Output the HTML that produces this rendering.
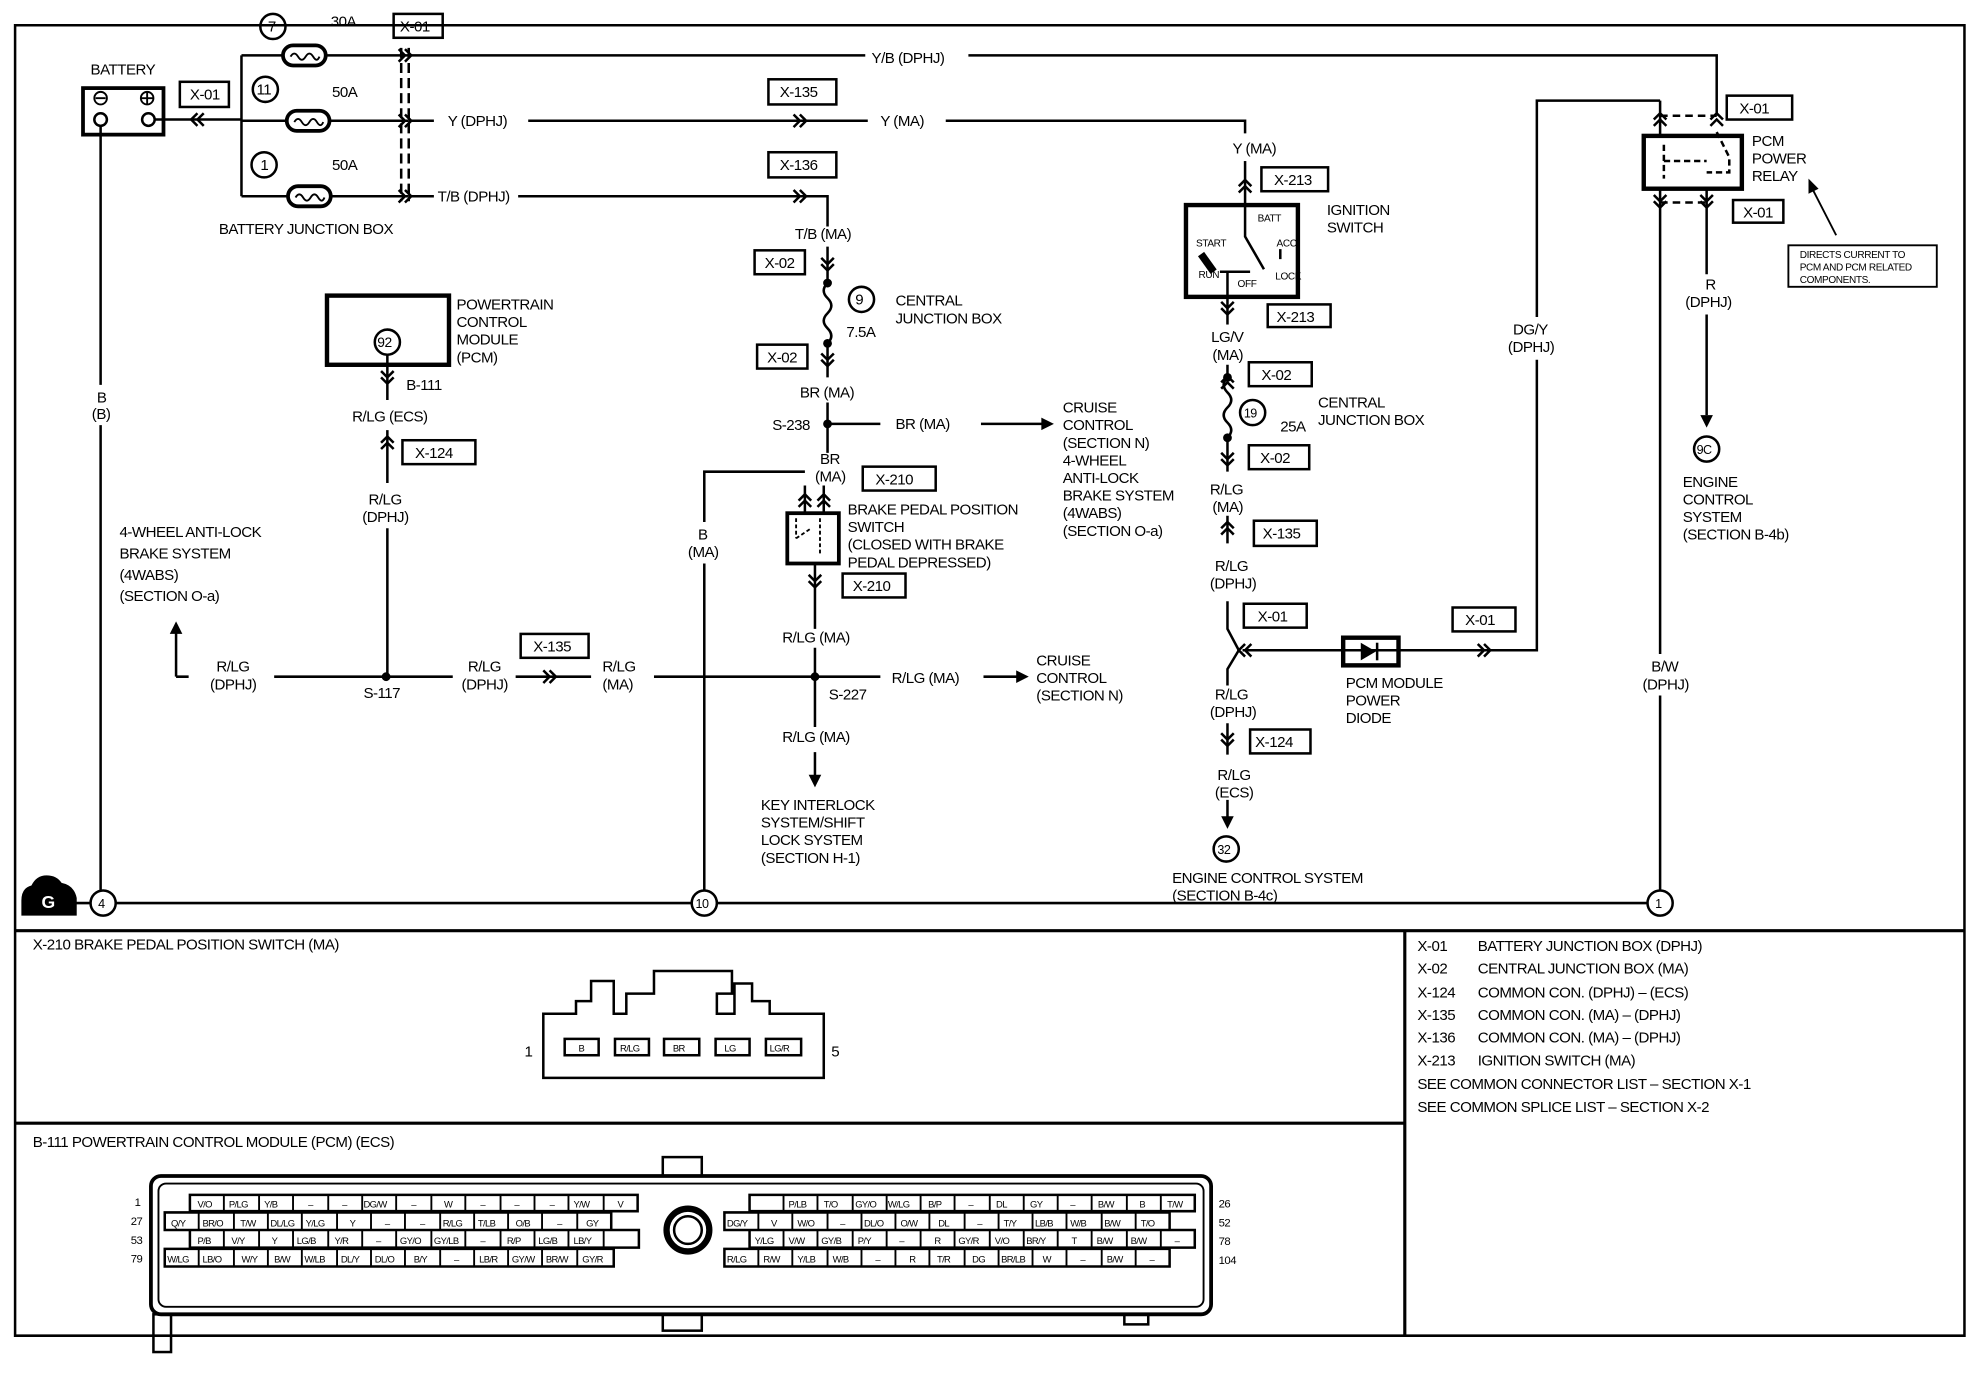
<!DOCTYPE html>
<html><head><meta charset="utf-8"><style>
html,body{margin:0;padding:0;background:#fff}
svg{display:block}
text{font-family:"Liberation Sans",sans-serif;font-size:12px;fill:#000;letter-spacing:-0.4px}
.s{font-size:9px}
.t{font-size:8px;letter-spacing:-0.3px}
.p{font-size:7.5px;letter-spacing:-0.5px}
</style></head><body>
<svg width="1972" height="1376" viewBox="0 0 1568 1094" xmlns="http://www.w3.org/2000/svg">
<defs>
<path id="cr" d="M-5,-5 L0,0 L-5,5 M0,-5 L5,0 L0,5" fill="none" stroke="#000" stroke-width="2"/>
<g id="fuse"><rect x="-17" y="-8" width="34" height="16" rx="8" fill="#fff" stroke="#000" stroke-width="3"/><path d="M-11,1 q3,-5 6,0 q3,5 6,0 q3,-5 6,0 q3,5 5,0" fill="none" stroke="#000" stroke-width="1.5"/></g>
</defs>
<g fill="none" stroke="#000" stroke-width="2">
<path d="M12,20 H1562 V1062 H12 Z"/>
<path d="M12,740 H1562 M1117,740 V1062 M12,893 H1117" stroke-width="2.5"/>
<path d="M40,718 H1320"/>
<rect x="66" y="70" width="64" height="37" stroke-width="3"/>
<circle cx="80" cy="95" r="5"/><circle cx="118" cy="95" r="5"/>
<circle cx="80" cy="78" r="5" stroke-width="1.5"/><path d="M76,78 H84" stroke-width="1.5"/>
<circle cx="117" cy="78" r="5" stroke-width="1.5"/><path d="M112,78 H122 M117,73 V83" stroke-width="1.5"/>
<path d="M80,100 V306 M80,338 V708"/>
<path d="M123,95 H192 M192,44 V156 M192,44 H325 M192,96 H325 M192,156 H325"/>
<path d="M319,38 V160 M325,38 V160" stroke-dasharray="8,4"/>
<circle cx="217" cy="21" r="10"/><circle cx="211" cy="71" r="10"/><circle cx="210" cy="131" r="10"/>
<rect x="143" y="65" width="39" height="20"/>
<rect x="313" y="11" width="39" height="19"/>
<path d="M325,44 H688 M770,44 H1365 V92"/>
<path d="M325,96 H345 M420,96 H690 M752,96 H990 V106"/>
<path d="M990,128 V163"/>
<rect x="611" y="63" width="54" height="20"/>
<path d="M325,156 H345 M412,156 H658 V180"/>
<rect x="611" y="121" width="54" height="20"/>
<path d="M658,196 V225 q-6,6 0,12 q6,6 0,12 q-6,6 0,12 q6,6 0,12 V300"/>
<circle cx="658" cy="225" r="2.5" fill="#000"/><circle cx="658" cy="273" r="2.5" fill="#000"/>
<rect x="600" y="199" width="40" height="19"/>
<rect x="602" y="274" width="40" height="19"/>
<circle cx="685" cy="238" r="10"/>
<path d="M658,320 V360 M658,337 H700 M780,337 H830"/>
<circle cx="658" cy="337" r="2.5" fill="#000"/>
<rect x="686" y="371" width="58" height="19"/>
<path d="M640,386 V408 M655,386 V408"/>
<path d="M560,708 V448 M560,415 V375 H640"/>
<rect x="626" y="408" width="41" height="40" stroke-width="3"/>
<path d="M633,412 V428 M633,428 L645,420 M652,412 V440" stroke-width="1.5" stroke-dasharray="3,2"/>
<path d="M648,448 V500 M648,515 V578 M648,598 V617"/>
<rect x="670" y="456" width="50" height="19"/>
<circle cx="648" cy="538" r="2.5" fill="#000"/>
<path d="M140,538 V500 M140,538 H150 M218,538 H360 M410,538 H470 M520,538 H700 M782,538 H810"/>
<rect x="414" y="504" width="54" height="19"/>
<circle cx="307" cy="538" r="2.5" fill="#000"/>
<rect x="260" y="235" width="97" height="55" stroke-width="3.5"/>
<circle cx="308" cy="272" r="10"/>
<path d="M308,282 V318 M308,342 V384 M308,420 V538"/>
<rect x="320" y="350" width="58" height="19"/>
<rect x="1003" y="133" width="53" height="19"/>
<rect x="943" y="163" width="89" height="73" stroke-width="3.5"/>
<path d="M990,163 V188 L1005,214" stroke-width="2"/>
<path d="M955,202 L965,216" stroke-width="6"/>
<path d="M970,216 H994 M1018,198 V206" stroke-width="2"/>
<path d="M976,216 V258"/>
<rect x="1008" y="242" width="50" height="18"/>
<path d="M976,290 V300 q-6,6 0,12 q6,6 0,12 q-6,6 0,12 q6,6 0,12 V375"/>
<circle cx="976" cy="300" r="2.5" fill="#000"/><circle cx="976" cy="348" r="2.5" fill="#000"/>
<rect x="993" y="288" width="50" height="19"/>
<circle cx="996" cy="328" r="10"/>
<rect x="993" y="354" width="48" height="19"/>
<path d="M976,410 V432 M976,478 V500 L985,517 L976,532 V545 M976,575 V600 M976,636 V650"/>
<rect x="997" y="414" width="50" height="20"/>
<rect x="989" y="480" width="50" height="19"/>
<path d="M988,517 H1222 V286 M1222,252 V80 H1320"/>
<rect x="1068" y="507" width="44" height="22" stroke-width="3.5"/>
<rect x="1155" y="483" width="50" height="19"/>
<rect x="994" y="580" width="48" height="19"/>
<circle cx="975" cy="675" r="10"/>
<rect x="1307" y="108" width="78" height="42" stroke-width="3.5"/>
<path d="M1320,80 V108 M1320,150 V520 M1320,553 V708 M1357,150 V218 M1357,250 V330"/>
<path d="M1320,92 H1365 M1320,161 H1357" stroke-dasharray="6,4"/>
<path d="M1323,115 V142 M1323,128 H1357 M1365,105 L1375,125 V137 H1357" stroke-dasharray="5,3"/>
<rect x="1373" y="76" width="52" height="19"/>
<rect x="1378" y="159" width="40" height="18"/>
<rect x="1422" y="195" width="118" height="33" stroke-width="1.5"/>
<path d="M1460,187 L1440,148" stroke-width="1.5"/>
<circle cx="1357" cy="357" r="10"/>
<circle cx="82" cy="718" r="10" fill="#fff"/><circle cx="560" cy="718" r="10" fill="#fff"/><circle cx="1320" cy="718" r="10" fill="#fff"/>
</g>
<use href="#fuse" x="242" y="44"/><use href="#fuse" x="245" y="96"/><use href="#fuse" x="246" y="156"/>
<use href="#cr" x="322" y="44"/><use href="#cr" x="322" y="96"/><use href="#cr" x="322" y="156"/>
<use href="#cr" transform="translate(157,95) rotate(180)"/>
<use href="#cr" x="636" y="96"/><use href="#cr" x="636" y="156"/>
<use href="#cr" transform="translate(658,210) rotate(90)"/>
<use href="#cr" transform="translate(658,286) rotate(90)"/>
<use href="#cr" transform="translate(640,398) rotate(-90)"/>
<use href="#cr" transform="translate(655,398) rotate(-90)"/>
<use href="#cr" transform="translate(648,462) rotate(90)"/>
<use href="#cr" x="437" y="538"/>
<use href="#cr" transform="translate(308,300) rotate(90)"/>
<use href="#cr" transform="translate(308,352) rotate(-90)"/>
<use href="#cr" transform="translate(990,148) rotate(-90)"/>
<use href="#cr" transform="translate(976,245) rotate(90)"/>
<use href="#cr" transform="translate(976,304) rotate(-90)"/>
<use href="#cr" transform="translate(976,365) rotate(90)"/>
<use href="#cr" transform="translate(976,420) rotate(-90)"/>
<use href="#cr" transform="translate(990,517) rotate(180)"/>
<use href="#cr" x="1180" y="517"/>
<use href="#cr" transform="translate(976,588) rotate(90)"/>
<use href="#cr" transform="translate(1320,95) rotate(-90)"/>
<use href="#cr" transform="translate(1365,95) rotate(-90)"/>
<use href="#cr" transform="translate(1320,160) rotate(90)"/>
<use href="#cr" transform="translate(1357,160) rotate(90)"/>
<g fill="#000">
<path d="M838,337 l-10,-5 v10 z"/><path d="M818,538 l-10,-5 v10 z"/>
<path d="M140,494 l-5,10 h10 z"/><path d="M648,626 l-5,-10 h10 z"/>
<path d="M976,659 l-5,-10 h10 z"/><path d="M1357,340 l-5,-10 h10 z"/>
<path d="M1438,142 l0,12 l8,-4 z"/>
<path d="M1082,511 v14 l12,-7 z"/><rect x="1094" y="511" width="2" height="14"/>
<path d="M17,728 V716 q0,-10 8,-12 q4,-8 12,-8 q8,0 12,6 q10,2 12,12 v14 z"/>
</g>
<g>
<text x="72" y="59">BATTERY</text>
<text x="151" y="79">X-01</text>
<text x="318" y="25">X-01</text>
<text x="213" y="25">7</text><text x="204" y="75">11</text><text x="207" y="135">1</text>
<text x="263" y="21">30A</text><text x="264" y="77">50A</text><text x="264" y="135">50A</text>
<text x="174" y="186">BATTERY JUNCTION BOX</text>
<text x="693" y="50">Y/B (DPHJ)</text>
<text x="356" y="100">Y (DPHJ)</text>
<text x="620" y="77">X-135</text>
<text x="700" y="100">Y (MA)</text>
<text x="980" y="122">Y (MA)</text>
<text x="348" y="160">T/B (DPHJ)</text>
<text x="620" y="135">X-136</text>
<text x="632" y="190">T/B (MA)</text>
<text x="608" y="213">X-02</text>
<text x="680" y="242">9</text>
<text x="673" y="268">7.5A</text>
<text x="712" y="243">CENTRAL</text><text x="712" y="257">JUNCTION BOX</text>
<text x="610" y="288">X-02</text>
<text x="636" y="316">BR (MA)</text>
<text x="614" y="342">S-238</text>
<text x="712" y="341">BR (MA)</text>
<text x="845" y="328">CRUISE</text><text x="845" y="342">CONTROL</text><text x="845" y="356">(SECTION N)</text><text x="845" y="370">4-WHEEL</text><text x="845" y="384">ANTI-LOCK</text><text x="845" y="398">BRAKE SYSTEM</text><text x="845" y="412">(4WABS)</text><text x="845" y="426">(SECTION O-a)</text>
<text x="652" y="369">BR</text><text x="648" y="383">(MA)</text>
<text x="696" y="385">X-210</text>
<text x="555" y="429">B</text><text x="547" y="443">(MA)</text>
<text x="674" y="409">BRAKE PEDAL POSITION</text><text x="674" y="423">SWITCH</text><text x="674" y="437">(CLOSED WITH BRAKE</text><text x="674" y="451">PEDAL DEPRESSED)</text>
<text x="678" y="470">X-210</text>
<text x="622" y="511">R/LG (MA)</text>
<text x="659" y="556">S-227</text>
<text x="709" y="543">R/LG (MA)</text>
<text x="824" y="529">CRUISE</text><text x="824" y="543">CONTROL</text><text x="824" y="557">(SECTION N)</text>
<text x="622" y="590">R/LG (MA)</text>
<text x="605" y="644">KEY INTERLOCK</text><text x="605" y="658">SYSTEM/SHIFT</text><text x="605" y="672">LOCK SYSTEM</text><text x="605" y="686">(SECTION H-1)</text>
<text x="172" y="534">R/LG</text><text x="167" y="548">(DPHJ)</text>
<text x="289" y="555">S-117</text>
<text x="372" y="534">R/LG</text><text x="367" y="548">(DPHJ)</text>
<text x="424" y="518">X-135</text>
<text x="479" y="534">R/LG</text><text x="479" y="548">(MA)</text>
<text x="95" y="427">4-WHEEL ANTI-LOCK</text><text x="95" y="444">BRAKE SYSTEM</text><text x="95" y="461">(4WABS)</text><text x="95" y="478">(SECTION O-a)</text>
<text x="77" y="320">B</text><text x="73" y="333">(B)</text>
<text x="363" y="246">POWERTRAIN</text><text x="363" y="260">CONTROL</text><text x="363" y="274">MODULE</text><text x="363" y="288">(PCM)</text>
<text x="300" y="276" style="font-size:11px">92</text>
<text x="323" y="310">B-111</text>
<text x="280" y="335">R/LG (ECS)</text>
<text x="330" y="364">X-124</text>
<text x="293" y="401">R/LG</text><text x="288" y="415">(DPHJ)</text>
<text x="1013" y="147">X-213</text>
<text x="1055" y="171">IGNITION</text><text x="1055" y="185">SWITCH</text>
<text class="t" x="1000" y="176">BATT</text><text class="t" x="951" y="196">START</text><text class="t" x="1015" y="196">ACC</text><text class="t" x="953" y="221">RUN</text><text class="t" x="984" y="228">OFF</text><text class="t" x="1014" y="222">LOCK</text>
<text x="1015" y="256">X-213</text>
<text x="963" y="272">LG/V</text><text x="964" y="286">(MA)</text>
<text x="1003" y="302">X-02</text>
<text x="989" y="332" style="font-size:10px">19</text>
<text x="1018" y="343">25A</text>
<text x="1048" y="324">CENTRAL</text><text x="1048" y="338">JUNCTION BOX</text>
<text x="1002" y="368">X-02</text>
<text x="962" y="393">R/LG</text><text x="964" y="407">(MA)</text>
<text x="1004" y="428">X-135</text>
<text x="966" y="454">R/LG</text><text x="962" y="468">(DPHJ)</text>
<text x="1000" y="494">X-01</text>
<text x="1165" y="497">X-01</text>
<text x="1070" y="547">PCM MODULE</text><text x="1070" y="561">POWER</text><text x="1070" y="575">DIODE</text>
<text x="966" y="556">R/LG</text><text x="962" y="570">(DPHJ)</text>
<text x="998" y="594">X-124</text>
<text x="968" y="620">R/LG</text><text x="966" y="634">(ECS)</text>
<text x="968" y="679" style="font-size:10px">32</text>
<text x="932" y="702">ENGINE CONTROL SYSTEM</text><text x="932" y="716">(SECTION B-4c)</text>
<text x="1203" y="266">DG/Y</text><text x="1199" y="280">(DPHJ)</text>
<text x="1383" y="90">X-01</text>
<text x="1386" y="173">X-01</text>
<text x="1393" y="116">PCM</text><text x="1393" y="130">POWER</text><text x="1393" y="144">RELAY</text>
<text class="t" x="1431" y="205">DIRECTS CURRENT TO</text><text class="t" x="1431" y="215">PCM AND PCM RELATED</text><text class="t" x="1431" y="225">COMPONENTS.</text>
<text x="1356" y="230">R</text><text x="1340" y="244">(DPHJ)</text>
<text x="1349" y="361" style="font-size:10px">9C</text>
<text x="1338" y="387">ENGINE</text><text x="1338" y="401">CONTROL</text><text x="1338" y="415">SYSTEM</text><text x="1338" y="429">(SECTION B-4b)</text>
<text x="1313" y="534">B/W</text><text x="1306" y="548">(DPHJ)</text>
<text x="78" y="722" style="font-size:10px">4</text>
<text x="553" y="722" style="font-size:10px">10</text>
<text x="1316" y="722" style="font-size:10px">1</text>
<text x="33" y="722" style="fill:#fff;font-size:14px;font-weight:bold">G</text>
<text x="26" y="755">X-210    BRAKE PEDAL POSITION SWITCH (MA)</text>
<text x="26" y="912">B-111    POWERTRAIN CONTROL MODULE (PCM) (ECS)</text>
<text x="1127" y="756">X-01</text><text x="1175" y="756">BATTERY JUNCTION BOX (DPHJ)</text>
<text x="1127" y="774">X-02</text><text x="1175" y="774">CENTRAL JUNCTION BOX (MA)</text>
<text x="1127" y="793">X-124</text><text x="1175" y="793">COMMON CON. (DPHJ) – (ECS)</text>
<text x="1127" y="811">X-135</text><text x="1175" y="811">COMMON CON.  (MA) – (DPHJ)</text>
<text x="1127" y="829">X-136</text><text x="1175" y="829">COMMON CON. (MA) – (DPHJ)</text>
<text x="1127" y="847">X-213</text><text x="1175" y="847">IGNITION SWITCH (MA)</text>
<text x="1127" y="866">SEE COMMON CONNECTOR LIST – SECTION X-1</text>
<text x="1127" y="884">SEE COMMON SPLICE LIST – SECTION X-2</text>
</g>
<g fill="none" stroke="#000" stroke-width="2">
<path d="M432,857 V806 H458 V796 H470 V780 H488 V806 H498 V790 H520 V772 H582 V790 H570 V806 H584 V782 H598 V796 H612 V806 H655 V857 Z"/>
<rect x="449" y="826" width="27" height="13"/><rect x="489" y="826" width="27" height="13"/><rect x="528" y="826" width="28" height="13"/><rect x="569" y="826" width="27" height="13"/><rect x="609" y="826" width="28" height="13"/>
</g>
<g>
<text class="p" x="460" y="836">B</text><text class="p" x="493" y="836">R/LG</text><text class="p" x="535" y="836">BR</text><text class="p" x="576" y="836">LG</text><text class="p" x="612" y="836">LG/R</text>
</g>
<text x="417" y="840">1</text><text x="661" y="840">5</text>
<g fill="none" stroke="#000" stroke-width="2">
<rect x="120" y="935" width="843" height="110" rx="8" stroke-width="3"/>
<rect x="126" y="941" width="831" height="98" rx="6" stroke-width="1.5"/>
<rect x="527" y="920" width="31" height="15"/><rect x="527" y="1045" width="31" height="13"/>
<rect x="122" y="1045" width="14" height="30"/><rect x="894" y="1045" width="19" height="8"/>
<circle cx="547" cy="978" r="17" stroke-width="5"/><circle cx="547" cy="978" r="11" stroke-width="2"/>
<path d="M151,950 H507 V963 H151 Z M131,964 H486 V978 H131 Z M151,978 H508 V992 H151 Z M131,993 H488 V1007 H131 Z"/>
<path d="M596,950 H950 V963 H596 Z M576,964 H930 V978 H576 Z M596,978 H950 V992 H596 Z M576,993 H930 V1007 H576 Z"/>
<path stroke-width="1.5" d="M178,950v13M206,950v13M233,950v13M261,950v13M288,950v13M315,950v13M343,950v13M370,950v13M398,950v13M425,950v13M452,950v13M480,950v13
M158,964v14M186,964v14M213,964v14M240,964v14M268,964v14M295,964v14M322,964v14M350,964v14M377,964v14M404,964v14M431,964v14M459,964v14
M178,978v14M206,978v14M233,978v14M261,978v14M288,978v14M315,978v14M343,978v14M370,978v14M398,978v14M425,978v14M452,978v14M480,978v14
M158,993v14M186,993v14M213,993v14M240,993v14M268,993v14M295,993v14M322,993v14M350,993v14M377,993v14M404,993v14M431,993v14M459,993v14
M623,950v13M650,950v13M678,950v13M705,950v13M732,950v13M759,950v13M787,950v13M814,950v13M841,950v13M868,950v13M896,950v13M923,950v13
M603,964v14M630,964v14M658,964v14M685,964v14M712,964v14M739,964v14M767,964v14M794,964v14M821,964v14M848,964v14M876,964v14M903,964v14
M623,978v14M650,978v14M678,978v14M705,978v14M732,978v14M759,978v14M787,978v14M814,978v14M841,978v14M868,978v14M896,978v14M923,978v14
M603,993v14M630,993v14M658,993v14M685,993v14M712,993v14M739,993v14M767,993v14M794,993v14M821,993v14M848,993v14M876,993v14M903,993v14"/>
</g>
<g>
<text class="p" x="157" y="960">V/O</text><text class="p" x="182" y="960">P/LG</text><text class="p" x="210" y="960">Y/B</text><text class="p" x="245" y="960">–</text><text class="p" x="272" y="960">–</text><text class="p" x="289" y="960">DG/W</text><text class="p" x="327" y="960">–</text><text class="p" x="353" y="960">W</text><text class="p" x="382" y="960">–</text><text class="p" x="409" y="960">–</text><text class="p" x="437" y="960">–</text><text class="p" x="456" y="960">Y/W</text><text class="p" x="491" y="960">V</text>
<text class="p" x="136" y="975">Q/Y</text><text class="p" x="161" y="975">BR/O</text><text class="p" x="191" y="975">T/W</text><text class="p" x="215" y="975">DL/LG</text><text class="p" x="243" y="975">Y/LG</text><text class="p" x="278" y="975">Y</text><text class="p" x="306" y="975">–</text><text class="p" x="334" y="975">–</text><text class="p" x="352" y="975">R/LG</text><text class="p" x="380" y="975">T/LB</text><text class="p" x="410" y="975">O/B</text><text class="p" x="443" y="975">–</text><text class="p" x="466" y="975">GY</text>
<text class="p" x="157" y="989">P/B</text><text class="p" x="184" y="989">V/Y</text><text class="p" x="216" y="989">Y</text><text class="p" x="236" y="989">LG/B</text><text class="p" x="266" y="989">Y/R</text><text class="p" x="299" y="989">–</text><text class="p" x="318" y="989">GY/O</text><text class="p" x="345" y="989">GY/LB</text><text class="p" x="382" y="989">–</text><text class="p" x="403" y="989">R/P</text><text class="p" x="428" y="989">LG/B</text><text class="p" x="456" y="989">LB/Y</text>
<text class="p" x="133" y="1004">W/LG</text><text class="p" x="161" y="1004">LB/O</text><text class="p" x="192" y="1004">W/Y</text><text class="p" x="218" y="1004">B/W</text><text class="p" x="242" y="1004">W/LB</text><text class="p" x="271" y="1004">DL/Y</text><text class="p" x="298" y="1004">DL/O</text><text class="p" x="329" y="1004">B/Y</text><text class="p" x="361" y="1004">–</text><text class="p" x="381" y="1004">LB/R</text><text class="p" x="407" y="1004">GY/W</text><text class="p" x="434" y="1004">BR/W</text><text class="p" x="463" y="1004">GY/R</text>
<text class="p" x="627" y="960">P/LB</text><text class="p" x="655" y="960">T/O</text><text class="p" x="680" y="960">GY/O</text><text class="p" x="706" y="960">W/LG</text><text class="p" x="738" y="960">B/P</text><text class="p" x="770" y="960">–</text><text class="p" x="792" y="960">DL</text><text class="p" x="819" y="960">GY</text><text class="p" x="851" y="960">–</text><text class="p" x="873" y="960">B/W</text><text class="p" x="906" y="960">B</text><text class="p" x="928" y="960">T/W</text>
<text class="p" x="578" y="975">DG/Y</text><text class="p" x="613" y="975">V</text><text class="p" x="634" y="975">W/O</text><text class="p" x="668" y="975">–</text><text class="p" x="687" y="975">DL/O</text><text class="p" x="716" y="975">O/W</text><text class="p" x="746" y="975">DL</text><text class="p" x="777" y="975">–</text><text class="p" x="798" y="975">T/Y</text><text class="p" x="823" y="975">LB/B</text><text class="p" x="851" y="975">W/B</text><text class="p" x="878" y="975">B/W</text><text class="p" x="907" y="975">T/O</text>
<text class="p" x="600" y="989">Y/LG</text><text class="p" x="627" y="989">V/W</text><text class="p" x="653" y="989">GY/B</text><text class="p" x="682" y="989">P/Y</text><text class="p" x="715" y="989">–</text><text class="p" x="743" y="989">R</text><text class="p" x="762" y="989">GY/R</text><text class="p" x="791" y="989">V/O</text><text class="p" x="816" y="989">BR/Y</text><text class="p" x="852" y="989">T</text><text class="p" x="872" y="989">B/W</text><text class="p" x="899" y="989">B/W</text><text class="p" x="934" y="989">–</text>
<text class="p" x="578" y="1004">R/LG</text><text class="p" x="607" y="1004">R/W</text><text class="p" x="634" y="1004">Y/LB</text><text class="p" x="662" y="1004">W/B</text><text class="p" x="696" y="1004">–</text><text class="p" x="723" y="1004">R</text><text class="p" x="745" y="1004">T/R</text><text class="p" x="773" y="1004">DG</text><text class="p" x="796" y="1004">BR/LB</text><text class="p" x="829" y="1004">W</text><text class="p" x="859" y="1004">–</text><text class="p" x="880" y="1004">B/W</text><text class="p" x="914" y="1004">–</text>
</g>
<g>
<text class="s" x="107" y="959">1</text><text class="s" x="104" y="974">27</text><text class="s" x="104" y="989">53</text><text class="s" x="104" y="1004">79</text>
<text class="s" x="969" y="960">26</text><text class="s" x="969" y="975">52</text><text class="s" x="969" y="990">78</text><text class="s" x="969" y="1005">104</text>
</g>
</svg>
</body></html>
